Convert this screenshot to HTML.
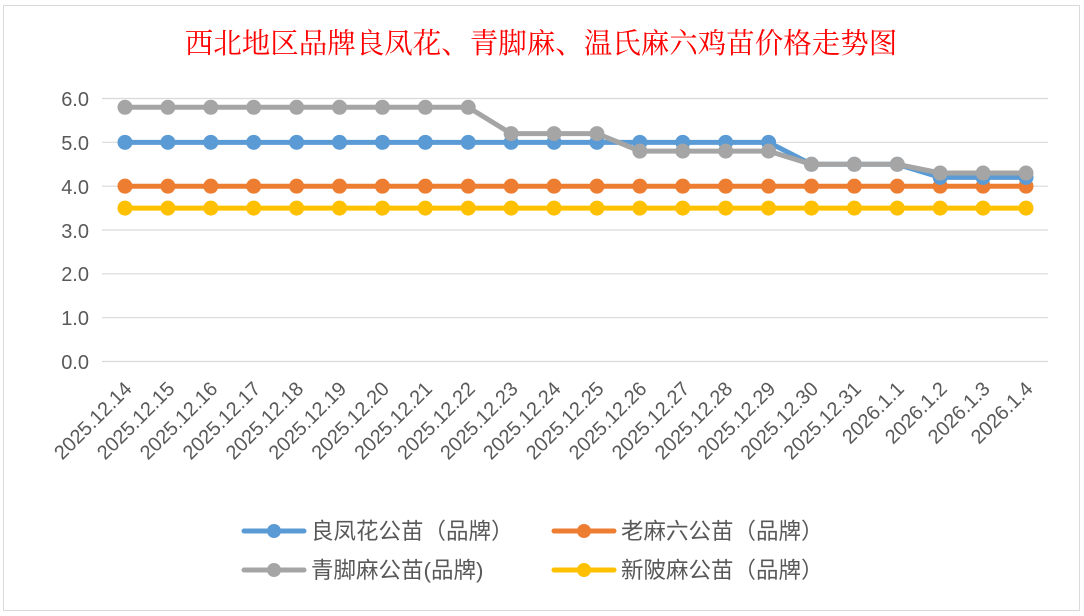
<!DOCTYPE html>
<html><head><meta charset="utf-8"><style>
body{margin:0;background:#fff;}
svg{display:block}
</style></head><body>
<svg width="1084" height="616" xmlns="http://www.w3.org/2000/svg">
<rect x="0" y="0" width="1084" height="616" fill="#fff"/>
<rect x="3.5" y="5.5" width="1076" height="605" fill="#fff" stroke="#d9d9d9" stroke-width="1"/>
<text x="541" y="53" text-anchor="middle" font-family="'Liberation Serif','Noto Serif CJK SC',serif" font-size="28.5" fill="#ff0000">西北地区品牌良凤花、青脚麻、温氏麻六鸡苗价格走势图</text>
<g stroke="#d9d9d9" stroke-width="1.2">
<line x1="102" x2="1048" y1="98.5" y2="98.5"/>
<line x1="102" x2="1048" y1="142.3" y2="142.3"/>
<line x1="102" x2="1048" y1="186.2" y2="186.2"/>
<line x1="102" x2="1048" y1="230" y2="230"/>
<line x1="102" x2="1048" y1="273.8" y2="273.8"/>
<line x1="102" x2="1048" y1="317.7" y2="317.7"/>
<line x1="102" x2="1048" y1="361.5" y2="361.5"/>
</g>
<g font-family="'Liberation Sans',sans-serif" font-size="20" fill="#595959" text-anchor="end">
<text x="89" y="106">6.0</text><text x="89" y="150">5.0</text><text x="89" y="194">4.0</text>
<text x="89" y="238">3.0</text><text x="89" y="281">2.0</text><text x="89" y="325">1.0</text><text x="89" y="369">0.0</text>
</g>
<g id="xl" font-family="'Liberation Sans',sans-serif" font-size="20" fill="#595959" text-anchor="end"></g>
<g id="series"></g>
<g font-family="'Liberation Sans','Noto Sans CJK SC',sans-serif" font-size="22.5" fill="#595959">
<line x1="244" x2="304" y1="531" y2="531" stroke="#5b9bd5" stroke-width="5" stroke-linecap="round"/><circle cx="274" cy="531" r="7" fill="#5b9bd5"/>
<text x="311" y="539">良凤花公苗（品牌）</text>
<line x1="554" x2="614" y1="531" y2="531" stroke="#ed7d31" stroke-width="5" stroke-linecap="round"/><circle cx="584" cy="531" r="7" fill="#ed7d31"/>
<text x="621" y="539">老麻六公苗（品牌）</text>
<line x1="244" x2="304" y1="570" y2="570" stroke="#a5a5a5" stroke-width="5" stroke-linecap="round"/><circle cx="274" cy="570" r="7" fill="#a5a5a5"/>
<text x="311" y="578">青脚麻公苗(品牌)</text>
<line x1="554" x2="614" y1="570" y2="570" stroke="#ffc000" stroke-width="5" stroke-linecap="round"/><circle cx="584" cy="570" r="7" fill="#ffc000"/>
<text x="621" y="578">新陂麻公苗（品牌）</text>
</g>
</svg>
<script>
var ns="http://www.w3.org/2000/svg";
var lab=["2025.12.14","2025.12.15","2025.12.16","2025.12.17","2025.12.18","2025.12.19","2025.12.20","2025.12.21","2025.12.22","2025.12.23","2025.12.24","2025.12.25","2025.12.26","2025.12.27","2025.12.28","2025.12.29","2025.12.30","2025.12.31","2026.1.1","2026.1.2","2026.1.3","2026.1.4"];
var N=lab.length;
var X=function(i){return 125+i*(1026-125)/(N-1);};
var Y=function(v){return 361.5-v*43.83;};
var xl=document.getElementById('xl');
lab.forEach(function(l,i){var t=document.createElementNS(ns,'text');var x=X(i)+8,y=390;t.setAttribute('x',x);t.setAttribute('y',y);t.setAttribute('transform','rotate(-45 '+x+' '+y+')');t.textContent=l;xl.appendChild(t);});
function rep(v,c){var a=[];for(var i=0;i<c;i++)a.push(v);return a;}
var S=[
["#ffc000",rep(3.5,N)],
["#ed7d31",rep(4.0,N)],
["#5b9bd5",rep(5.0,16).concat(rep(4.5,3)).concat(rep(4.2,3))],
["#a5a5a5",rep(5.8,9).concat(rep(5.2,3)).concat(rep(4.8,4)).concat(rep(4.5,3)).concat(rep(4.3,3))]
];
var g=document.getElementById('series');
S.forEach(function(s){var d=s[1].map(function(v,i){return X(i).toFixed(1)+','+Y(v).toFixed(1);}).join(' ');
var p=document.createElementNS(ns,'polyline');p.setAttribute('points',d);p.setAttribute('fill','none');p.setAttribute('stroke',s[0]);p.setAttribute('stroke-width','5');p.setAttribute('stroke-linejoin','round');g.appendChild(p);
s[1].forEach(function(v,i){var c=document.createElementNS(ns,'circle');c.setAttribute('cx',X(i));c.setAttribute('cy',Y(v));c.setAttribute('r','7.5');c.setAttribute('fill',s[0]);g.appendChild(c);});});
</script>
</body></html>
